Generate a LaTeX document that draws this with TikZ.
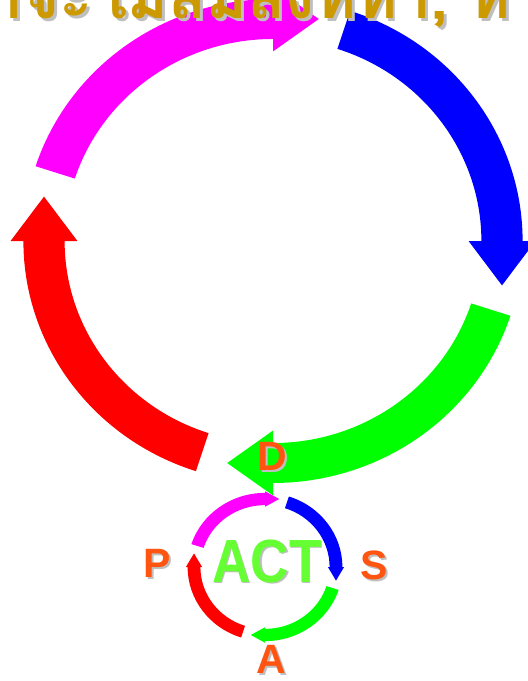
\documentclass[tikz,border=0pt]{standalone}
\usepackage{fontspec}
\setmainfont{Liberation Sans}
\newfontfamily\thaifont[Script=Thai]{Loma}
\definecolor{ringmag}{RGB}{255,0,255}
\definecolor{ringblue}{RGB}{0,0,255}
\definecolor{ringgreen}{RGB}{0,255,0}
\definecolor{ringred}{RGB}{255,0,0}
\definecolor{lettercol}{RGB}{255,85,17}
\definecolor{actgreen}{RGB}{102,255,51}
\definecolor{titlegold}{RGB}{204,153,0}
\newcommand\shadowed[2][2pt]{\makebox[0pt][l]{\kern#1\raisebox{-#1}{\textcolor{black!25}{#2}}}#2}
\tikzset{
  pics/cyclering/.style={code={
    % four arcs of one ring, arrow head half width #1
    \foreach \col [count=\i] in {ringmag,ringblue,ringgreen,ringred}{
      \fill[\col,rotate=-90*(\i-1)] (162:0.91) -- (162:1.09)
        arc[start angle=162,end angle=90,radius=1.09]
        -- (0,1+#1) -- (0.2,1) -- (0,1-#1) -- (0,0.91)
        arc[start angle=90,end angle=162,radius=0.91] -- cycle;
    }
  }},
  letter/.style={font=\bfseries\fontsize{41}{41}\selectfont,text=lettercol,anchor=base,inner sep=0pt},
  acttext/.style={font=\bfseries\fontsize{61}{61}\selectfont,text=actgreen,anchor=base,inner sep=0pt,xscale=0.87},
  titletext/.style={font=\thaifont\bfseries\fontsize{62}{62}\selectfont,text=titlegold,anchor=base,inner sep=0pt}
}
\begin{document}
\begin{tikzpicture}[x=1pt,y=1pt]
  \useasboundingbox (0,0) rectangle (528,-681);
  % big ring and small ring
  \pic[xscale=229,yscale=222] at (273,-241) {cyclering=0.146};
  \pic[xscale=71,yscale=68] at (265,-567) {cyclering=0.114};
  \node[letter] (d) at (272,-470) {\shadowed{D}};
  \node[letter] (p) at (157,-577) {\shadowed{P}};
  \node[letter] (s) at (374,-579) {\shadowed{S}};
  \node[letter] (a) at (271,-673) {\shadowed{A}};
  \node[acttext] (act) at (267,-582) {\shadowed[1.5pt]{ACT}};
  \node[titletext] (title) at (194,-18) {\shadowed[3pt]{ลองทำจะไม่ลืมสิ่งที่ทำ, ทำ}};
\end{tikzpicture}
\end{document}
